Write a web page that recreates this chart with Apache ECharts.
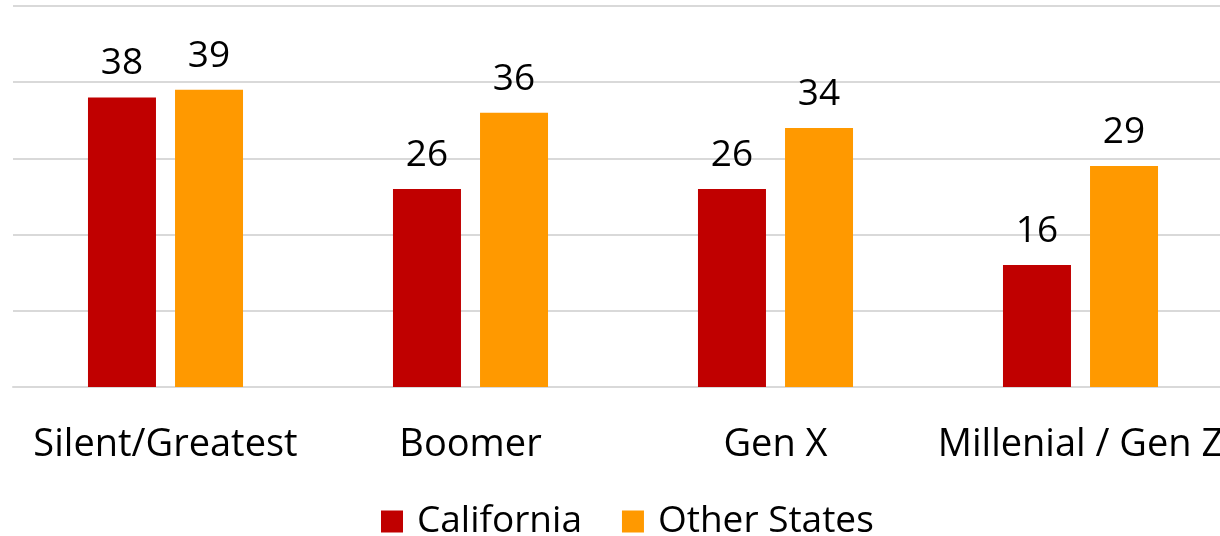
<!DOCTYPE html>
<html>
<head>
<meta charset="utf-8">
<script src="https://cdn.jsdelivr.net/npm/echarts@6/dist/echarts.min.js"></script>
<style>
  html, body { margin: 0; padding: 0; background: #fff; }
  #main { width: 1220px; height: 536px; }
</style>
</head>
<body>
<div id="main"></div>
<script>
var categories = ['Silent/Greatest', 'Boomer', 'Gen X', 'Millenial / Gen Z'];
var california = [38, 26, 26, 16];
var otherStates = [39, 36, 34, 29];

var font = '"Open Sans", "Noto Sans", sans-serif';

var chart = echarts.init(document.getElementById('main'));
chart.setOption({
  animation: false,
  textStyle: { fontFamily: font },
  legend: {
    data: ['California', 'Other States'],
    top: 498,
    left: 376,
    itemWidth: 22,
    itemHeight: 22,
    itemGap: 40,
    icon: 'rect',
    textStyle: { fontSize: 37, color: '#000', fontFamily: font, padding: [0, 0, 0, 9] }
  },
  grid: { left: 13, width: 1220, top: 6, bottom: 149, containLabel: false, outerBoundsMode: 'none' },
  xAxis: {
    type: 'category',
    data: categories,
    axisLine: { lineStyle: { color: '#d9d9d9', width: 2 } },
    axisTick: { show: false },
    axisLabel: { fontSize: 38, color: '#000', margin: 39, fontFamily: font, interval: 0 }
  },
  yAxis: {
    type: 'value',
    min: 0,
    max: 50,
    interval: 10,
    axisLabel: { show: false },
    axisLine: { show: false },
    axisTick: { show: false },
    splitLine: { lineStyle: { color: '#d9d9d9', width: 2 } }
  },
  series: [
    {
      name: 'California',
      type: 'bar',
      data: california,
      barWidth: 68,
      barGap: '28%',
      itemStyle: { color: '#C00000' },
      label: { show: true, position: 'top', distance: 15, fontSize: 37, color: '#000', fontFamily: font }
    },
    {
      name: 'Other States',
      type: 'bar',
      data: otherStates,
      barWidth: 68,
      itemStyle: { color: '#FF9900' },
      label: { show: true, position: 'top', distance: 15, fontSize: 37, color: '#000', fontFamily: font }
    }
  ]
});
</script>
</body>
</html>
